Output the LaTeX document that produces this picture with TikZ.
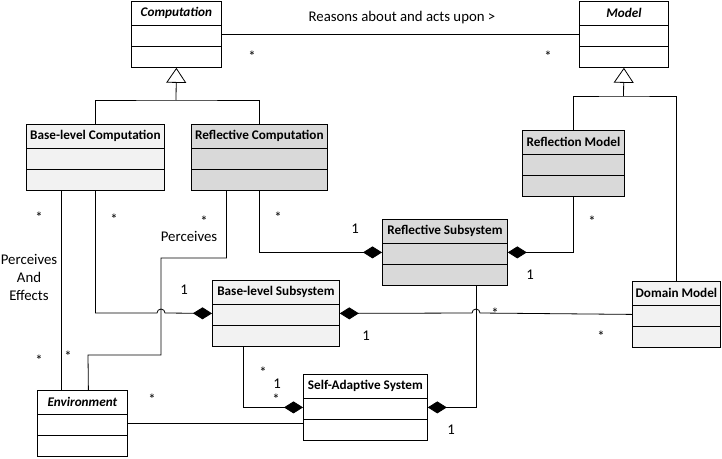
\documentclass[tikz,border=0pt]{standalone}
\usepackage{fontspec}
\setmainfont{Carlito}
\usetikzlibrary{arrows.meta,calc,positioning}
\definecolor{lightfill}{HTML}{F2F2F2}
\definecolor{darkfill}{HTML}{D9D9D9}
\tikzset{class/.style={rectangle,draw=black,line width=0.8pt,minimum height=66pt,inner sep=0pt,anchor=north west},
plain/.style={class,fill=white},
light/.style={class,fill=lightfill},
dark/.style={class,fill=darkfill},
title/.style={inner sep=0pt,font=\fontsize{13.2}{13.2}\selectfont\bfseries},
abstract/.style={title,font=\fontsize{13.2}{13.2}\selectfont\bfseries\itshape},
lbl/.style={inner sep=0pt,font=\fontsize{14.8}{18}\selectfont},
link/.style={line width=0.8pt},
compo/.style={link,-{Diamond[length=19pt,width=12pt]}},
gen/.style={link,-{Triangle[open,length=15pt,width=20pt,fill=white]}}}
\newcommand{\umlclass}[7]{%
  \node[#5,minimum width=#4pt] (#1) at (#2,#3) {};
  \node[#6] (#1-t) at ($(#1.north)+(0,12)$) {#7};
  \draw[link] (#1.north west) ++(0,24) -- ++(#4,0);
  \draw[link] (#1.north west) ++(0,45) -- ++(#4,0);
}

\begin{document}
\begin{tikzpicture}[x=1pt,y=-1pt]
  \useasboundingbox (0,0) rectangle (722,458);
  \umlclass{comp}{131}{1}{90}{plain}{abstract}{Computation}
  \umlclass{model}{579}{1}{89}{plain}{abstract}{Model}
  \umlclass{blc}{26}{124}{138}{light}{title}{Base-level Computation}
  \umlclass{rc}{191}{124}{136}{dark}{title}{Reflective Computation}
  \umlclass{rm}{522}{130}{102}{dark}{title}{Reflection Model}
  \umlclass{rs}{382}{219}{125}{dark}{title}{Reflective Subsystem}
  \umlclass{bls}{212}{280}{127}{light}{title}{Base-level Subsystem}
  \umlclass{dm}{632}{281}{88}{light}{title}{Domain Model}
  \umlclass{sas}{303}{374}{124}{plain}{title}{Self-Adaptive System}
  \umlclass{env}{37}{390}{90}{plain}{abstract}{Environment}

  \coordinate (gc) at (176,100);
  \coordinate (gm) at (623.5,96);
  \draw[link] (blc.north) |- (gc) -| (rc.north);
  \draw[gen] (gc) -- (comp.south);
  \draw[link] (rm.north) |- (gm) -| (dm.north);
  \draw[gen] (gm) -- (model.south);

  \draw[link] (comp.east) -- (model.west);
  \draw[link] ([xshift=-34pt]blc.south) -- ([xshift=-21pt]env.north);
  \draw[compo] (blc.south) |- (157,313) arc[start angle=180,end angle=0,radius=4pt] -- (bls.west);
  \draw[link] ([xshift=-33pt]rc.south) |- (161,258) |- (88,355) -- ([xshift=6pt]env.north);
  \draw[compo] (rc.south) |- (rs.west);
  \draw[compo] (rm.south) |- (rs.east);
  \draw[compo] (dm.west) -- (480,313) arc[start angle=0,end angle=180,radius=4pt] -- (bls.east);
  \draw[compo] ([xshift=-32.5pt]bls.south) |- (sas.west);
  \draw[compo] ([xshift=31.5pt]rs.south) |- (sas.east);
  \draw[link] (env.east) -- (env.east -| sas.west);

  \node[lbl] (reason) at (402,18) {Reasons about and acts upon >};
  \node[lbl] (m1) at (252,56) {*};
  \node[lbl] (m2) at (548,56) {*};
  \node[lbl] (m3) at (39,217) {*};
  \node[lbl] (m4) at (114,219) {*};
  \node[lbl] (m5) at (204,221) {*};
  \node[lbl] (perc) at (189,236) {Perceives};
  \node[lbl,align=center] (pae) at (29,277) {Perceives\\And\\Effects};
  \node[lbl] (m6) at (278,217) {*};
  \node[lbl] (m7) at (355,229) {1};
  \node[lbl] (m8) at (184,290) {1};
  \node[lbl] (m9) at (592,221) {*};
  \node[lbl] (m10) at (530,275) {1};
  \node[lbl] (m11) at (366,336) {1};
  \node[lbl] (m12) at (495,313) {*};
  \node[lbl] (m13) at (601,336) {*};
  \node[lbl] (m14) at (39,360) {*};
  \node[lbl] (m15) at (68,356) {*};
  \node[lbl] (m16) at (152,399) {*};
  \node[lbl] (m17) at (263,372) {*};
  \node[lbl] (m18) at (277,384) {1};
  \node[lbl] (m19) at (276,399) {*};
  \node[lbl] (m20) at (451,430) {1};
\end{tikzpicture}
\end{document}
